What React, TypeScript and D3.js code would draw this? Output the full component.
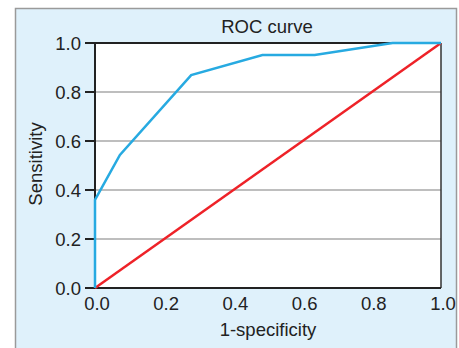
import React from "react";
import * as d3 from "d3";

const fpr = [0, 0, 0.072, 0.278, 0.484, 0.635, 0.86, 1.0];
const tpr = [0, 0.36, 0.543, 0.869, 0.951, 0.951, 1.0, 1.0];
const refX = [0, 1];
const refY = [0, 1];
const xTicks = [0, 0.2, 0.4, 0.6, 0.8, 1.0];
const yTicks = [0, 0.2, 0.4, 0.6, 0.8, 1.0];

const W = 459, H = 348;
const L = 95, R = 441, T = 43, B = 288;
const font = "'Liberation Sans', Arial, sans-serif";
const fs = 18.5;

export default function App() {
  const x = d3.scaleLinear().domain([0, 1]).range([L, R]);
  const y = d3.scaleLinear().domain([0, 1]).range([B, T]);
  const line = d3.line<[number, number]>().x(d => x(d[0])).y(d => y(d[1]));
  const roc = line(fpr.map((v, i) => [v, tpr[i]] as [number, number]))!;
  const diag = line(refX.map((v, i) => [v, refY[i]] as [number, number]))!;
  return (
    <svg width={W} height={H} style={{ position: "absolute", left: 0, top: 0 }}>
      <rect x={15.5} y={8.5} width={441} height={345} fill="#dff1fb" stroke="#9a9a9a" strokeWidth={1.5} />
      <rect x={L} y={T} width={R - L} height={B - T} fill="#ffffff" />
      {yTicks.filter(t => t > 0 && t < 1).map(t => (
        <line key={t} x1={L} x2={R} y1={y(t)} y2={y(t)} stroke="#a8a8a8" strokeWidth={1.5} />
      ))}
      <line x1={R} x2={R} y1={T} y2={B} stroke="#333" strokeWidth={1.5} />
      <line x1={L} x2={R} y1={T} y2={T} stroke="#222" strokeWidth={2} />
      <line x1={L} x2={R} y1={B} y2={B} stroke="#222" strokeWidth={2} />
      <line x1={L} x2={L} y1={T} y2={B} stroke="#222" strokeWidth={2} />
      {yTicks.map(t => (
        <g key={t}>
          <line x1={L - 10} x2={L} y1={y(t)} y2={y(t)} stroke="#222" strokeWidth={2} />
          <text x={81} y={y(t) + 6.5} textAnchor="end" fontFamily={font} fontSize={fs} fill="#222">{t.toFixed(1)}</text>
        </g>
      ))}
      {xTicks.map(t => (
        <text key={t} x={x(t) + 2} y={310} textAnchor="middle" fontFamily={font} fontSize={fs} fill="#222">{t.toFixed(1)}</text>
      ))}
      <path d={diag} fill="none" stroke="#ee2228" strokeWidth={2.5} />
      <path d={roc} fill="none" stroke="#27aae1" strokeWidth={2.5} />
      <text x={267} y={33} textAnchor="middle" fontFamily={font} fontSize={fs} fill="#222">ROC curve</text>
      <text x={268} y={336} textAnchor="middle" fontFamily={font} fontSize={fs} fill="#222">1-specificity</text>
      <text transform={`translate(42,164) rotate(-90)`} textAnchor="middle" fontFamily={font} fontSize={fs} fill="#222">Sensitivity</text>
    </svg>
  );
}
